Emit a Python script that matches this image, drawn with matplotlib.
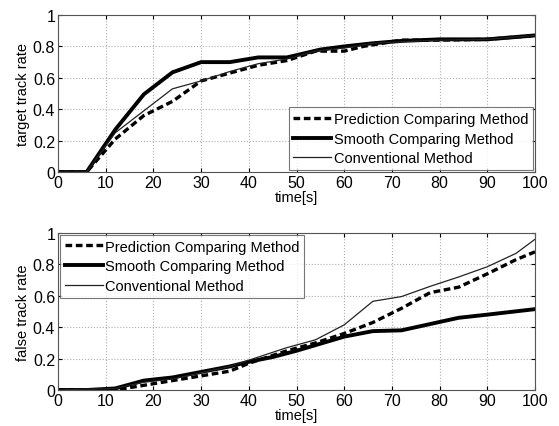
import matplotlib
matplotlib.use("Agg")
import matplotlib.pyplot as plt

plt.rcParams["font.family"] = ["Liberation Sans", "DejaVu Sans"]
plt.rcParams["font.size"] = 10

# target track rate
t_pred_top = [0, 6, 12, 18, 24, 30, 36, 42, 48, 54, 60, 64, 72, 80, 90, 100]
pred_top = [0, 0, 0.21, 0.36, 0.45, 0.58, 0.63, 0.68, 0.71, 0.77, 0.77, 0.80, 0.84, 0.84, 0.845, 0.87]
t_smooth_top = [0, 6, 12, 18, 24, 30, 36, 42, 48, 55, 60, 66, 72, 80, 90, 100]
smooth_top = [0, 0, 0.27, 0.495, 0.635, 0.70, 0.70, 0.73, 0.73, 0.78, 0.80, 0.82, 0.835, 0.845, 0.845, 0.87]
t_conv_top = [0, 6, 12, 18, 24, 30, 36, 42, 48, 54, 60, 66, 72, 80, 90, 100]
conv_top = [0, 0, 0.25, 0.39, 0.53, 0.58, 0.64, 0.69, 0.72, 0.77, 0.79, 0.82, 0.83, 0.84, 0.845, 0.87]

# false track rate
t_pred_bot = [0, 12, 18, 24, 30, 36, 40, 48, 54, 60, 66, 72, 78, 84, 90, 96, 100]
pred_bot = [0, 0, 0.03, 0.06, 0.09, 0.12, 0.17, 0.25, 0.30, 0.36, 0.43, 0.52, 0.62, 0.655, 0.74, 0.83, 0.88]
t_smooth_bot = [0, 6, 12, 18, 24, 30, 36, 40, 45, 50, 60, 66, 72, 78, 84, 90, 100]
smooth_bot = [0, 0, 0.01, 0.06, 0.08, 0.115, 0.15, 0.18, 0.21, 0.25, 0.34, 0.375, 0.38, 0.42, 0.46, 0.48, 0.515]
t_conv_bot = [0, 12, 18, 24, 30, 36, 40, 48, 54, 60, 66, 72, 78, 84, 90, 96, 100]
conv_bot = [0, 0.01, 0.05, 0.07, 0.11, 0.15, 0.19, 0.27, 0.32, 0.415, 0.565, 0.595, 0.66, 0.72, 0.785, 0.87, 0.96]

labels = ["Prediction Comparing Method", "Smooth Comparing Method", "Conventional Method"]


def style_axes(ax, ylabel):
    ax.set_xlim(0, 100)
    ax.set_ylim(0, 1)
    ax.set_xticks(range(0, 101, 10))
    ax.set_yticks([0, 0.2, 0.4, 0.6, 0.8, 1])
    ax.set_yticklabels(["0", "0.2", "0.4", "0.6", "0.8", "1"])
    ax.tick_params(direction="in", length=3, top=True, right=True, labelsize=11.5, pad=2)
    ax.grid(True, linestyle=":", color="#b0b0b0", linewidth=0.8)
    for s in ax.spines.values():
        s.set_color("#555555")
        s.set_linewidth(0.8)
    ax.set_xlabel("time[s]", labelpad=0, fontsize=10.5)
    ax.set_ylabel(ylabel, labelpad=2, fontsize=10.5)


fig = plt.figure(figsize=(5.59, 4.27), dpi=100)
ax1 = fig.add_axes([0.1038, 0.5948, 0.8533, 0.3677])
ax2 = fig.add_axes([0.1038, 0.0843, 0.8533, 0.3677])

for ax, data in [
    (ax1, (t_pred_top, pred_top, t_smooth_top, smooth_top, t_conv_top, conv_top)),
    (ax2, (t_pred_bot, pred_bot, t_smooth_bot, smooth_bot, t_conv_bot, conv_bot)),
]:
    tp, yp, ts, ys, tc, yc = data
    ax.plot(tp, yp, color="black", linestyle=(0, (2.0, 1.1)), linewidth=2.4, label=labels[0])
    ax.plot(ts, ys, color="black", linewidth=2.8, label=labels[1])
    ax.plot(tc, yc, color="#222222", linewidth=0.9, label=labels[2])

style_axes(ax1, "target track rate")
style_axes(ax2, "false track rate")

leg_kw = dict(fontsize=10.5, frameon=True, fancybox=False, edgecolor="#555555",
              handlelength=2.6, handletextpad=0.2, borderpad=0.3, labelspacing=0.4,
              borderaxespad=0.15)
l1 = ax1.legend(loc="lower right", **leg_kw)
l2 = ax2.legend(loc="upper left", **leg_kw)
for l in (l1, l2):
    l.get_frame().set_linewidth(0.8)

fig.savefig("out.png", dpi=100)
